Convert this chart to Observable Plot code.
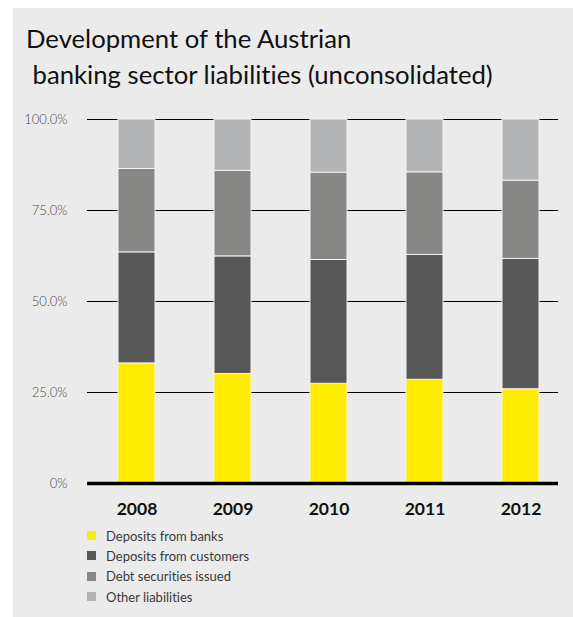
<!DOCTYPE html>
<html><head><meta charset="utf-8">
<script src="https://cdn.jsdelivr.net/npm/d3@7"></script>
<script src="https://cdn.jsdelivr.net/npm/@observablehq/plot@0.6"></script>
<style>
body{margin:0;background:#fff;width:573px;height:617px;overflow:hidden;position:relative;font-family:Lato,sans-serif}
#panel{position:absolute;left:13px;top:8px;width:560px;height:609px;background:#ebebeb}
#title{position:absolute;left:26px;top:20px;font-size:25.7px;line-height:36px;color:#111;white-space:pre;font-weight:400;font-variant-ligatures:none}
#chart{position:absolute;left:0;top:100px}
#legend{position:absolute;left:87px;top:525.5px;font-size:13px;color:#3a3a3a;font-weight:400;font-variant-ligatures:none}
.row{height:20.4px;line-height:20.4px;position:relative;padding-left:19px}
.sw{position:absolute;left:0;top:5.5px;width:9px;height:9px}
</style>
</head><body>
<div id="panel"></div>
<div id="title"></div>
<div id="chart"></div>
<div id="legend"></div>
<script>
const titleLines = ["Development of the Austrian", " banking sector liabilities (unconsolidated)"];
const years = ["2008","2009","2010","2011","2012"];
const series = ["Deposits from banks","Deposits from customers","Debt securities issued","Other liabilities"];
const depositsFromBanks = [33.0,30.1,27.4,28.5,25.9];
const depositsFromCustomers = [30.5,32.3,34.0,34.3,35.8];
const debtSecuritiesIssued = [22.9,23.5,24.0,22.7,21.5];
const otherLiabilities = [13.6,14.1,14.6,14.5,16.8];
const colors = ["#ffec00","#575757","#878786","#b2b3b4"];
const yTicks = [0,25,50,75,100];
const yTickLabels = ["0%","25.0%","50.0%","75.0%","100.0%"];

const seriesValues = [depositsFromBanks, depositsFromCustomers, debtSecuritiesIssued, otherLiabilities];
const table = [];
years.forEach((year, i) => {
  series.forEach((s, j) => table.push({year, series: s, value: seriesValues[j][i]}));
});

document.getElementById("title").textContent = titleLines.join("\n");

const chart = Plot.plot({
  width: 573, height: 430,
  marginLeft: 87, marginRight: 15, marginTop: 19, marginBottom: 47,
  style: {background: "transparent", fontFamily: "Lato, sans-serif", overflow: "visible"},
  x: {domain: years, range: [88, 569], paddingInner: 0.617, paddingOuter: 0.3, align: 0.5, label: null},
  y: {domain: [0, 100], label: null},
  color: {domain: series, range: colors},
  marks: [
    Plot.ruleY(yTicks.filter(d => d > 0), {stroke: "#000", strokeWidth: 1}),
    Plot.barY(table, {x: "year", y: "value", fill: "series", stroke: "#f2f2f2", strokeWidth: 1}),
    Plot.ruleY([0], {stroke: "#000", strokeWidth: 3.5}),
    Plot.axisY({ticks: yTicks, tickFormat: d => yTickLabels[yTicks.indexOf(d)], tickSize: 0, tickPadding: 20, fontSize: 13, color: "#4a4a4a", fontWeight: 300, label: null}),
    Plot.axisX({tickSize: 0, tickPadding: 19, fontSize: 17.5, fontWeight: 700, color: "#111", label: null})
  ]
});
document.getElementById("chart").appendChild(chart);

const legend = document.getElementById("legend");
series.forEach((s, j) => {
  const row = document.createElement("div");
  row.className = "row";
  const sw = document.createElement("span");
  sw.className = "sw";
  sw.style.background = colors[j];
  row.appendChild(sw);
  row.appendChild(document.createTextNode(s));
  legend.appendChild(row);
});
</script>
</body></html>
